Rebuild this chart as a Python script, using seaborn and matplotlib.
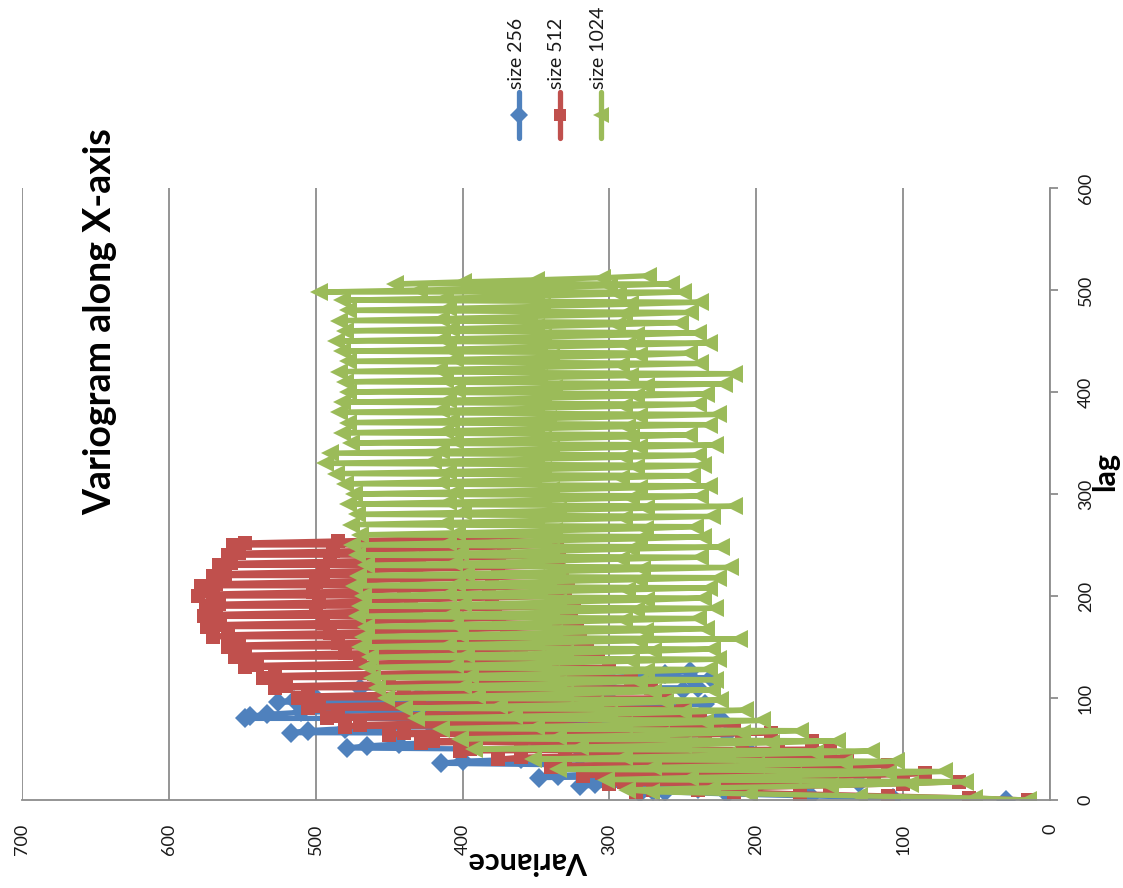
import matplotlib
matplotlib.use("Agg")
import matplotlib.pyplot as plt
from matplotlib.lines import Line2D
import pandas as pd
import seaborn as sns

# ---------------------------------------------------------------------------
# Variogram data along the X axis for three image sizes.
# Each row is (first lag, variances at successive lags from that lag on).
# ---------------------------------------------------------------------------
series_names = ["size 256", "size 512", "size 1024"]
series_colors = ["#4F81BD", "#C0504D", "#9BBB59"]
series_markers = ["D", "s", "<"]
marker_sizes = [10, 10, 12.5]

rows_256 = [
    (0, [30, 107, 163, 220, 262, 279]),
    (7, [279, 270, 240, 200, 165, 130]),
    (14, [320, 310, 280, 240, 200, 184]),
    (22, [348, 335, 300, 260, 225, 195]),
    (36, [415, 400, 360, 320, 280, 240, 205]),
    (51, [479, 465, 443, 400, 350, 300, 255, 220]),
    (66, [517, 505, 480, 420, 360, 300, 250, 225]),
    (80, [548, 545, 533, 510, 440, 360, 300, 235]),
    (96, [526, 515, 500, 430, 360, 300, 250, 240]),
    (110, [470, 420, 360, 300, 243, 231]),
    (120, [300, 280, 262, 245]),
]

rows_512 = [
    (0, [15, 55, 110, 170, 215, 240]),
    (8, [282, 270, 210, 150, 100, 62]),
    (16, [300, 290, 230, 170, 120, 85]),
    (24, [318, 305, 250, 190, 150, 110]),
    (32, [340, 330, 270, 210, 170, 138]),
    (40, [376, 360, 300, 240, 185, 150]),
    (48, [402, 395, 330, 270, 210, 162]),
    (56, [428, 420, 360, 290, 235, 190]),
    (64, [450, 440, 380, 310, 255, 215]),
    (72, [480, 470, 410, 340, 285, 238]),
    (80, [492, 485, 420, 350, 295, 250]),
    (90, [505, 498, 430, 365, 310, 262]),
    (100, [512, 505, 440, 380, 320, 272]),
    (110, [528, 520, 450, 390, 335, 285]),
    (120, [536, 528, 460, 400, 345, 300]),
    (130, [548, 540, 470, 410, 355, 308]),
    (140, [555, 548, 480, 415, 360, 315]),
    (150, [560, 552, 485, 420, 365, 320]),
    (160, [570, 560, 490, 425, 370, 322]),
    (170, [574, 565, 495, 430, 375, 326]),
    (180, [576, 568, 500, 432, 378, 324]),
    (190, [575, 566, 498, 435, 380, 330]),
    (200, [580, 570, 502, 440, 382, 328]),
    (210, [578, 568, 500, 438, 380, 332]),
    (220, [570, 562, 495, 432, 376, 335]),
    (230, [566, 558, 490, 430, 375, 334]),
    (240, [560, 552, 488, 425, 372, 336]),
    (250, [556, 548, 485, 420, 370, 338]),
]

rows_1024 = [
    (0, [15, 52, 130, 205, 272]),
    (10, [288, 230, 150, 95, 58]),
    (20, [302, 245, 175, 110, 72]),
    (30, [335, 270, 200, 140, 105]),
    (40, [352, 290, 220, 160, 122]),
    (50, [392, 320, 250, 190, 145]),
    (60, [402, 335, 265, 210, 170]),
    (70, [415, 350, 290, 235, 196]),
    (80, [432, 365, 300, 250, 208]),
    (90, [440, 375, 310, 262, 225]),
    (100, [452, 390, 330, 270, 230]),
    (110, [458, 400, 335, 280, 228]),
    (120, [462, 395, 340, 275, 232]),
    (130, [465, 405, 345, 285, 226]),
    (140, [463, 398, 330, 270, 230]),
    (150, [470, 410, 350, 280, 212]),
    (160, [468, 402, 338, 276, 234]),
    (170, [466, 405, 345, 290, 240]),
    (180, [472, 408, 340, 282, 228]),
    (190, [470, 400, 335, 275, 236]),
    (200, [468, 410, 348, 288, 232]),
    (210, [474, 404, 342, 280, 226]),
    (220, [471, 398, 336, 278, 218]),
    (230, [466, 406, 350, 292, 238]),
    (240, [472, 402, 340, 285, 224]),
    (250, [475, 410, 345, 280, 236]),
    (260, [470, 404, 338, 276, 242]),
    (270, [476, 412, 350, 290, 230]),
    (280, [472, 400, 335, 275, 215]),
    (290, [478, 410, 345, 285, 238]),
    (300, [474, 405, 340, 280, 232]),
    (310, [480, 415, 352, 292, 244]),
    (320, [486, 410, 345, 282, 236]),
    (330, [494, 420, 350, 290, 240]),
    (340, [490, 415, 340, 280, 228]),
    (350, [476, 405, 345, 285, 246]),
    (360, [482, 412, 350, 288, 232]),
    (370, [478, 408, 342, 280, 226]),
    (380, [484, 415, 350, 290, 240]),
    (390, [482, 410, 345, 282, 234]),
    (400, [478, 404, 338, 275, 222]),
    (410, [480, 412, 348, 286, 215]),
    (420, [484, 416, 350, 292, 238]),
    (430, [478, 405, 340, 280, 246]),
    (440, [482, 410, 348, 288, 232]),
    (450, [486, 414, 345, 282, 240]),
    (460, [480, 408, 350, 295, 252]),
    (470, [484, 415, 355, 290, 245]),
    (480, [478, 410, 346, 286, 238]),
    (490, [482, 412, 350, 294, 250]),
    (498, [498, 430, 360, 300, 258]),
    (506, [446, 400, 350, 305, 274]),
]

series_rows = [rows_256, rows_512, rows_1024]
lag_steps = [2, 2, 2]

variance_ticks = [0, 100, 200, 300, 400, 500, 600, 700]
lag_ticks = [0, 100, 200, 300, 400, 500, 600]

title_text = "Variogram along X-axis"
variance_label = "Variance"
lag_label = "lag"


def expand(rows, step):
    lags, values = [], []
    for first, vals in rows:
        for k, v in enumerate(vals):
            lags.append(first + k * step)
            values.append(v)
    return lags, values


frames = []
for name, rows, step in zip(series_names, series_rows, lag_steps):
    lags, values = expand(rows, step)
    frames.append(pd.DataFrame({"series": name, "lag": lags, "variance": values}))
data = pd.concat(frames, ignore_index=True)

# ---------------------------------------------------------------------------
# Figure: the chart is laid out turned a quarter turn counter-clockwise,
# lag runs upward on the right, variance runs leftward along the bottom.
# ---------------------------------------------------------------------------
sns.set_theme(style="white")
plt.rcParams["font.family"] = ["Lato", "DejaVu Sans"]

W, H = 1123, 888
GRID = "#8C8C8C"
TEXT = "#1A1A1A"
LINE_W = 3.8

fig = plt.figure(figsize=(W / 100, H / 100), dpi=100)
fig.patch.set_facecolor("white")


def fx(px):
    return px / W


def fy(py):
    return 1 - py / H


ax = fig.add_axes([fx(22), fy(800), (1050 - 22) / W, (800 - 188) / H])
ax.set_facecolor("white")

for name, color, marker, msize in zip(series_names, series_colors,
                                      series_markers, marker_sizes):
    sub = data[data["series"] == name]
    sns.lineplot(
        data=sub, x="variance", y="lag", sort=False, estimator=None,
        color=color, linewidth=LINE_W, marker=marker, markersize=msize,
        markeredgewidth=0, ax=ax,
    )

ax.set_xlim(700, 0)
ax.set_ylim(0, 600)
ax.set_xticks(variance_ticks)
ax.set_yticks(lag_ticks)
ax.set_xlabel("")
ax.set_ylabel("")
ax.yaxis.tick_right()

ax.grid(axis="x", color=GRID, linewidth=1.3)
ax.grid(axis="y", visible=False)
ax.set_axisbelow(True)

for side in ["top", "left"]:
    ax.spines[side].set_visible(False)
for side in ["bottom", "right"]:
    ax.spines[side].set_color(GRID)
    ax.spines[side].set_linewidth(1.3)

ax.tick_params(axis="x", direction="out", length=6, width=1.3, color=GRID,
               labelrotation=90, pad=11, labelsize=13, labelcolor=TEXT)
ax.tick_params(axis="y", direction="out", length=6, width=1.3, color=GRID,
               labelrotation=90, pad=14, labelsize=13, labelcolor=TEXT,
               left=False, right=True, labelleft=False, labelright=True)
for lab in ax.get_yticklabels():
    lab.set_verticalalignment("center")

# Titles
fig.text(fx(100), fy(322), title_text, rotation=90, ha="center", va="center",
         fontsize=27, fontweight="bold", color="black")
fig.text(fx(528), fy(861), variance_label, rotation=180, ha="center", va="center",
         fontsize=22, fontweight="bold", color="black")
fig.text(fx(1105), fy(471), lag_label, rotation=90, ha="center", va="center",
         fontsize=22, fontweight="bold", color="black")

# Legend entries stacked along the top
legend_x = [519, 560, 601]
for x, name, color, marker, msize in zip(legend_x, series_names, series_colors,
                                         series_markers, marker_sizes):
    fig.add_artist(Line2D([fx(x)] * 3, [fy(92), fy(115), fy(138)],
                          transform=fig.transFigure, color=color, linewidth=LINE_W,
                          marker=marker, markersize=msize * 0.9, markeredgewidth=0,
                          markevery=[1]))
    fig.text(fx(x - 3), fy(89), name, rotation=90, ha="center", va="bottom",
             fontsize=14, color=TEXT)

fig.savefig("out.png", dpi=100, facecolor="white")
